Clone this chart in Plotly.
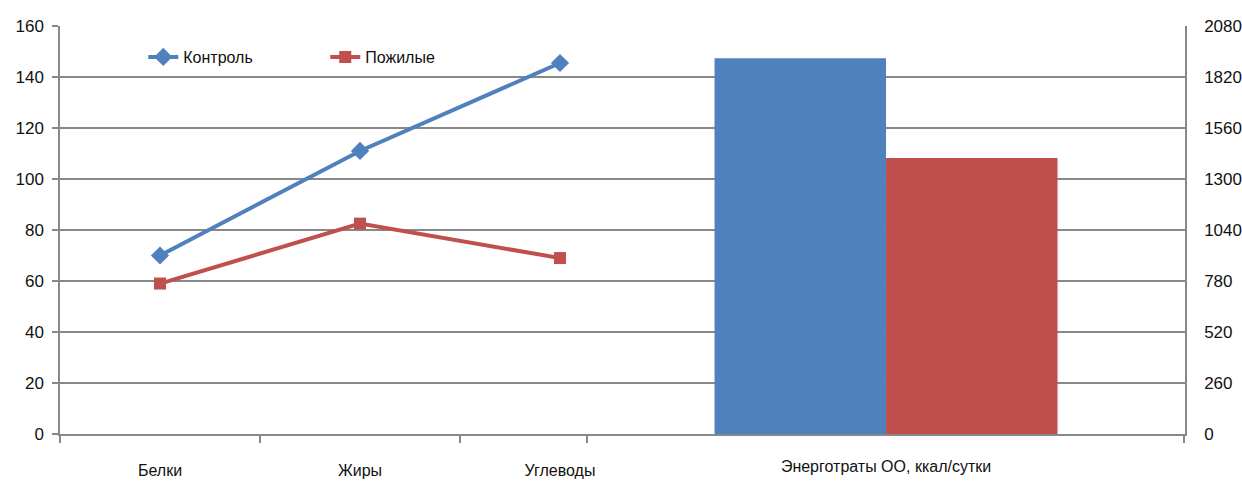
import plotly.graph_objects as go

# ---- data ----
categories = ["Белки", "Жиры", "Углеводы"]
control = [70, 111, 145.5]
elderly = [59, 82.5, 69]
energy_cat = ["Энерготраты ОО, ккал/сутки"]
energy_control = [1916]
energy_elderly = [1407]
series_names = ["Контроль", "Пожилые"]

BLUE = "#4F81BD"
RED = "#C0504D"
GRID = "#888888"
TXT = "#111111"
FONT = "Liberation Sans, Arial, sans-serif"

fig = go.Figure()
fig.add_trace(go.Scatter(
    x=categories, y=control, name=series_names[0], mode="lines+markers",
    line=dict(color=BLUE, width=4),
    marker=dict(symbol="diamond", size=14, color=BLUE),
    xaxis="x", yaxis="y"))
fig.add_trace(go.Scatter(
    x=categories, y=elderly, name=series_names[1], mode="lines+markers",
    line=dict(color=RED, width=4),
    marker=dict(symbol="square", size=12, color=RED),
    xaxis="x", yaxis="y"))
fig.add_trace(go.Bar(
    x=energy_cat, y=energy_control, name=series_names[0], showlegend=False,
    marker=dict(color=BLUE, line=dict(width=0)), xaxis="x2", yaxis="y2"))
fig.add_trace(go.Bar(
    x=energy_cat, y=energy_elderly, name=series_names[1], showlegend=False,
    marker=dict(color=RED, line=dict(width=0)), xaxis="x2", yaxis="y2"))
# empty helper trace so the tick-mark axis is drawn
fig.add_trace(go.Scatter(x=[], y=[], xaxis="x3", yaxis="y", showlegend=False,
                         hoverinfo="skip"))

fig.update_layout(
    width=1242, height=481,
    margin=dict(l=60, r=57, t=26, b=47),
    paper_bgcolor="white", plot_bgcolor="white",
    font=dict(family=FONT, size=16, color=TXT),
    barmode="group", bargap=0.2, bargroupgap=0,
    showlegend=True,
    legend=dict(orientation="h", x=0.074, y=0.924, xanchor="left", yanchor="middle",
                entrywidth=137, entrywidthmode="pixels",
                font=dict(family=FONT, size=16, color=TXT),
                bgcolor="rgba(0,0,0,0)", borderwidth=0),
    xaxis=dict(type="category", categoryorder="array", categoryarray=categories,
               range=[-0.5, 5.125], showgrid=False, zeroline=False,
               showline=True, linecolor=GRID, linewidth=1.5,
               ticks="", ticklabelstandoff=21, automargin=False,
               tickfont=dict(family=FONT, size=16, color=TXT)),
    xaxis2=dict(type="category", overlaying="x", anchor="y", side="bottom",
                range=[-1.9266, 0.6973], showgrid=False, zeroline=False,
                showline=False, ticks="", ticklabelstandoff=21, automargin=False,
                tickfont=dict(family=FONT, size=16, color=TXT)),
    xaxis3=dict(overlaying="x", anchor="y", side="bottom",
                range=[-0.5, 5.125], tickmode="array",
                tickvals=[-0.5, 0.5, 1.5, 2.135, 5.12],
                ticks="outside", ticklen=8, tickwidth=1.5, tickcolor=GRID,
                showticklabels=False, showgrid=False, zeroline=False, showline=False,
                automargin=False),
    yaxis=dict(range=[0, 160], tick0=0, dtick=20,
               showgrid=True, gridcolor=GRID, gridwidth=1.5, zeroline=False,
               showline=True, linecolor=GRID, linewidth=1.5,
               ticks="outside", ticklen=6, tickwidth=1.5, tickcolor=GRID,
               ticklabelstandoff=5, automargin=False,
               tickfont=dict(family=FONT, size=17, color=TXT)),
    yaxis2=dict(overlaying="y", side="right", anchor="x",
                range=[0, 2080], tick0=0, dtick=260,
                showgrid=False, zeroline=False,
                showline=True, linecolor=GRID, linewidth=1.5,
                ticks="", ticklabelstandoff=14, automargin=False,
                tickfont=dict(family=FONT, size=17, color=TXT)),
)

fig.write_html("out.html")
